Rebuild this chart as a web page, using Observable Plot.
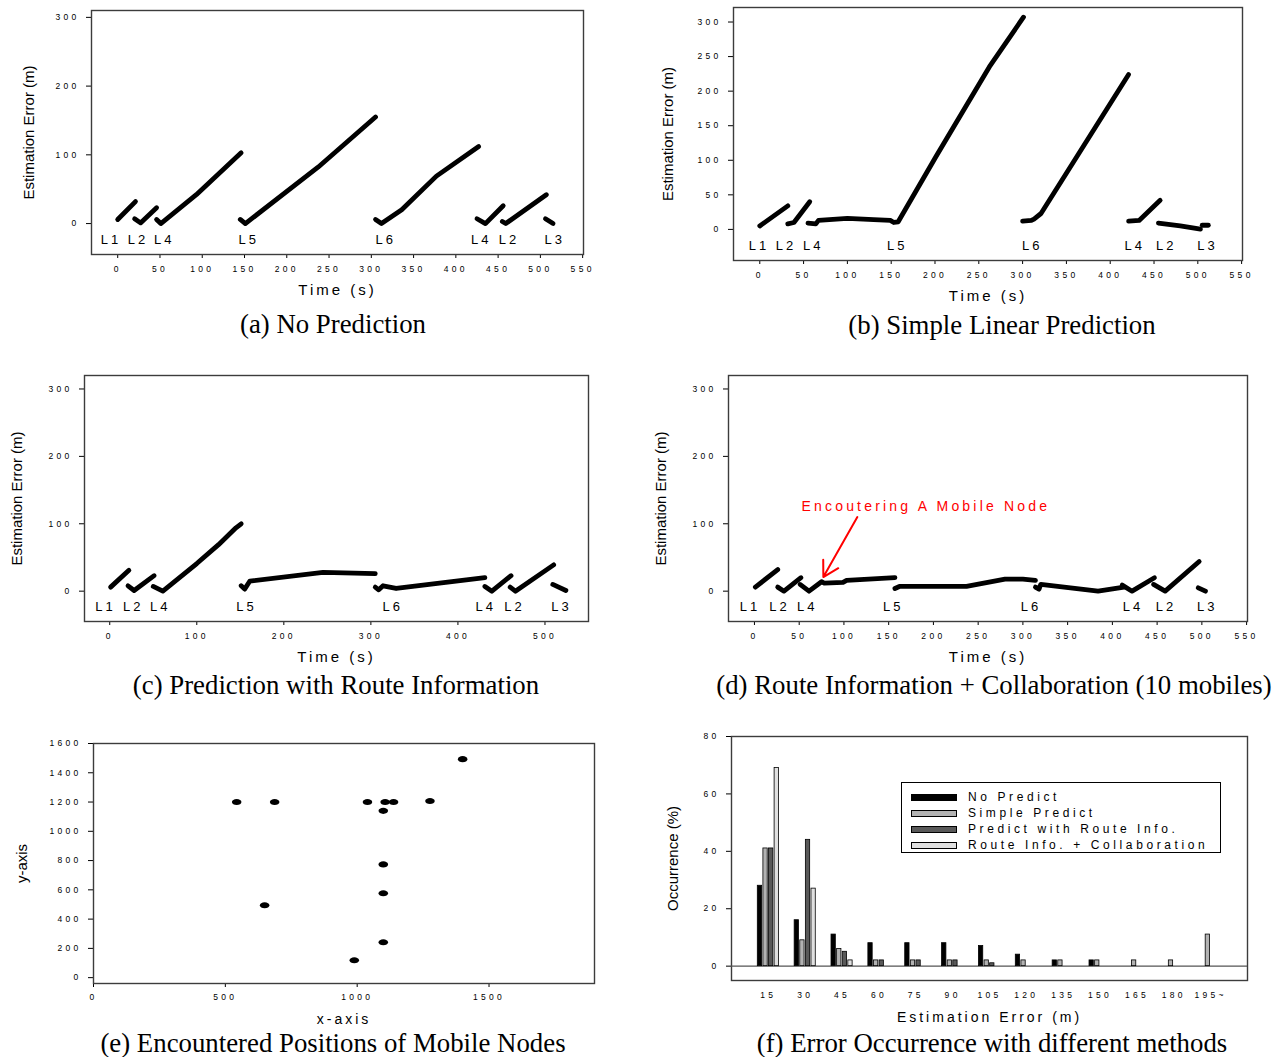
<!DOCTYPE html>
<html>
<head>
<meta charset="utf-8">
<script src="https://cdn.jsdelivr.net/npm/d3@7"></script>
<script src="https://cdn.jsdelivr.net/npm/@observablehq/plot@0.6"></script>
<style>
  html, body { margin: 0; padding: 0; background: #fff; }
  #root { position: relative; width: 1275px; height: 1057px; overflow: hidden; background: #fff; }
  .panel { position: absolute; }
  #root svg { font-family: Arial, "Liberation Sans", Helvetica, sans-serif; overflow: visible; }
  #root g[aria-label="x-axis tick label"], #root g[aria-label="y-axis tick label"] { font-size: 8.5px; letter-spacing: 3.3px; }
  #root g[aria-description="landmark label"] { letter-spacing: 3px; }
  #root g[aria-description="spaced axis title"] { letter-spacing: 3px; }
  #root g[aria-description="annotation"] { letter-spacing: 3.2px; }
  .caption { position: absolute; transform: translate(-50%, -50%); font-family: "Liberation Serif", "Times New Roman", serif; font-size: 26.8px; line-height: 0.85; white-space: nowrap; color: #000; }
  .legend { position: absolute; border: 1.3px solid #000; background: #fff; box-sizing: border-box; font-family: Arial, "Liberation Sans", sans-serif; font-size: 12px; letter-spacing: 3.6px; color: #000; }
  .legend .row { position: absolute; left: 0; height: 16px; display: flex; align-items: center; white-space: nowrap; }
  .legend .sw { width: 46px; height: 7px; border: 1px solid #000; box-sizing: border-box; margin-left: 9px; margin-right: 11px; }
</style>
</head>
<body>
<div id="root"></div>
<script>
// ---------- DATA ----------
// Estimation error traces: [time (s), error (m), segment]
const noPrediction = [
  [0,6,1],[21,32,1],
  [20,7,2],[27,1,2],[46,23,2],
  [46,6,3],[51,0,3],[93,42,3],[146,103,3],
  [145,6,4],[151,0,4],[237,82,4],[305,155,4],
  [305,6,5],[312,0,5],[336,20,5],[377,69,5],[427,112,5],
  [425,7,6],[435,0,6],[456,26,6],
  [455,3,7],[459,0,7],[507,42,7],
  [506,7,8],[515,0,8]
];
const simplePrediction = [
  [0,5,1],[32,34,1],
  [32,8,2],[39,10,2],[57,40,2],
  [55,9,3],[64,8,3],[67,13,3],[100,16,3],[130,14,3],[149,13,3],[153,10,3],[158,11,3],[201,105,3],[262,235,3],[301,307,3],
  [300,12,4],[310,13,4],[313,15,4],[321,23,4],[421,224,4],
  [421,12,5],[433,13,5],[457,42,5],
  [455,9,6],[480,5,6],[503,0.5,6],
  [505,6,7],[512,6,7]
];
const routePrediction = [
  [1,6,1],[22,31,1],
  [21,8,2],[28,1,2],[51,23,2],
  [50,7,3],[61,0,3],[100,41,3],[125,69,3],[145,94,3],[151,100,3],
  [151,8,4],[155,3,4],[161,15,4],[245,28,4],[305,26,4],
  [305,6,5],[309,2,5],[314,8,5],[329,4,5],[431,20,5],
  [431,7,6],[439,0,6],[461,23,6],
  [460,6,7],[466,0,7],[510,39,7],
  [509,10,8],[524,1,8]
];
const routeCollaboration = [
  [1,6,1],[26,32,1],
  [26,6,2],[33,0,2],[52,20,2],
  [51,10,3],[61,0,3],[75,14,3],[78,12,3],[99,13,3],[103,16,3],[157,20,3],
  [157,4,4],[162,7,4],[237,7,4],[280,18,4],[300,18,4],[314,16,4],
  [314,6,5],[318,3,5],[320,10,5],[384,0,5],[413,6,5],
  [411,9,6],[422,0,6],[447,20,6],
  [446,10,7],[459,0,7],[497,44,7],
  [496,5,8],[504,0,8]
];
// Landmark labels: [name, time (s)]
const landmarksA = [["L1",-8],["L2",24],["L4",55],["L5",155],["L6",317],["L4",430],["L2",463],["L3",517]];
const landmarksB = [["L1",-1],["L2",30],["L4",61],["L5",157],["L6",311],["L4",428],["L2",464],["L3",511]];
const landmarksC = [["L1",-5],["L2",27],["L4",58],["L5",157],["L6",325],["L4",432],["L2",465],["L3",519]];
const landmarksD = [["L1",-5],["L2",28],["L4",59],["L5",155],["L6",309],["L4",423],["L2",460],["L3",506]];
// Annotation in (d)
const noteText = [{label: "Encoutering A Mobile Node", t: 52.5, e: 126}];
const noteArrow = [{t1: 115, e1: 110, t2: 77, e2: 21}];

// (e) Encountered positions of mobile nodes
const encounterX = [543, 687, 1039, 1106, 1138, 1276, 1400, 1099, 1099, 1099, 649, 1099, 989];
const encounterY = [1200, 1200, 1200, 1200, 1200, 1207, 1493, 1140, 774, 577, 495, 242, 119];

// (f) Error occurrence
const errorBins = [15, 30, 45, 60, 75, 90, 105, 120, 135, 150, 165, 180, 195];
const binLabels = ["15","30","45","60","75","90","105","120","135","150","165","180","195~"];
const methods = ["No Predict", "Simple Predict", "Predict with Route Info.", "Route Info. + Collaboration"];
const noPredictPct     = [28, 16, 11, 8, 8, 8, 7, 4, 2, 2, 0, 0, 0];
const simplePredictPct = [41,  9,  6, 2, 2, 2, 2, 2, 2, 2, 2, 2, 11];
const routePredictPct  = [41, 44,  5, 2, 2, 2, 1, 0, 0, 0, 0, 0, 0];
const routeCollabPct   = [69, 27,  2, 0, 0, 0, 0, 0, 0, 0, 0, 0, 0];
const methodColors = ["#000000", "#b2b2b2", "#595959", "#e0e0e0"];

// ---------- HELPERS ----------
const root = document.getElementById("root");
function place(node, left, top) {
  const d = document.createElement("div");
  d.className = "panel";
  d.style.left = left + "px"; d.style.top = top + "px";
  d.appendChild(node);
  root.appendChild(d);
}
function caption(text, cx, cy) {
  const d = document.createElement("div");
  d.className = "caption";
  d.style.left = cx + "px"; d.style.top = cy + "px";
  d.textContent = text;
  root.appendChild(d);
}
const frameMark = () => Plot.frame({stroke: "#3c3c3c", strokeWidth: 1.4});
const xTitle = (t, dy, size = 15, spacing = true) =>
  Plot.text([t], {text: d => d, frameAnchor: "bottom", lineAnchor: "middle", textAnchor: "middle", dy, fontSize: size,
    ariaDescription: spacing ? "spaced axis title" : "axis title"});
const yTitle = (t, dx) =>
  Plot.text([t], {text: d => d, frameAnchor: "left", textAnchor: "middle", lineAnchor: "middle", dx, rotate: -90, fontSize: 15,
    ariaDescription: "axis title"});

function errorPanel({data, labels, xDomain, xTicks, yDomain, yTicks, width, height, margins, yDx, extra = []}) {
  return Plot.plot({
    width, height,
    marginLeft: margins[0], marginRight: margins[1], marginTop: margins[2], marginBottom: margins[3],
    x: {domain: xDomain, ticks: xTicks, tickSize: 4, tickPadding: 7, label: null},
    y: {domain: yDomain, ticks: yTicks, tickSize: 5, tickPadding: 7, label: null},
    marks: [
      frameMark(),
      Plot.line(data, {x: d => d[0], y: d => d[1], z: d => d[2], stroke: "#000", strokeWidth: 4.8,
        strokeLinecap: "round", strokeLinejoin: "round"}),
      Plot.text(labels, {x: d => d[1], text: d => d[0], frameAnchor: "bottom", lineAnchor: "middle", dy: -15, fontSize: 13,
        ariaDescription: "landmark label"}),
      xTitle("Time (s)", 36),
      yTitle("Estimation Error (m)", yDx),
      ...extra
    ]
  });
}

// ---------- (a) ----------
place(errorPanel({
  data: noPrediction, labels: landmarksA,
  xDomain: [-31, 551], xTicks: d3.range(0, 551, 50),
  yDomain: [-45, 310], yTicks: [0, 100, 200, 300],
  width: 620, height: 300, margins: [91, 37, 10, 46], yDx: -62
}), 0, 0);
caption("(a) No Prediction", 333, 324);

// ---------- (b) ----------
place(errorPanel({
  data: simplePrediction, labels: landmarksB,
  xDomain: [-30, 551], xTicks: d3.range(0, 551, 50),
  yDomain: [-45, 321], yTicks: d3.range(0, 301, 50),
  width: 635, height: 300, margins: [93, 33, 7, 40], yDx: -65
}), 640, 0);
caption("(b) Simple Linear Prediction", 1002, 325);

// ---------- (c) ----------
place(errorPanel({
  data: routePrediction, labels: landmarksC,
  xDomain: [-29, 550], xTicks: d3.range(0, 501, 100),
  yDomain: [-45, 320], yTicks: [0, 100, 200, 300],
  width: 620, height: 300, margins: [84, 32, 15, 39], yDx: -67
}), 0, 360);
caption("(c) Prediction with Route Information", 336, 685);

// ---------- (d) ----------
place(errorPanel({
  data: routeCollaboration, labels: landmarksD,
  xDomain: [-29, 551], xTicks: d3.range(0, 551, 50),
  yDomain: [-45, 320], yTicks: [0, 100, 200, 300],
  width: 635, height: 300, margins: [88, 28, 15, 39], yDx: -67,
  extra: [
    Plot.arrow(noteArrow, {x1: "t1", y1: "e1", x2: "t2", y2: "e2", stroke: "#ff0000", strokeWidth: 2, headLength: 13, bend: 0}),
    Plot.text(noteText, {x: "t", y: "e", text: "label", textAnchor: "start", fill: "#ff0000", fontSize: 14,
      ariaDescription: "annotation"})
  ]
}), 640, 360);
caption("(d) Route Information + Collaboration (10 mobiles)", 994, 685);

// ---------- (e) ----------
const ellipse = {
  draw(context, size) {
    const r = Math.sqrt(size / Math.PI), rx = r * 1.4, ry = r * 0.9, k = 0.5523;
    context.moveTo(rx, 0);
    context.bezierCurveTo(rx, k * ry, k * rx, ry, 0, ry);
    context.bezierCurveTo(-k * rx, ry, -rx, k * ry, -rx, 0);
    context.bezierCurveTo(-rx, -k * ry, -k * rx, -ry, 0, -ry);
    context.bezierCurveTo(k * rx, -ry, rx, -k * ry, rx, 0);
    context.closePath();
  }
};
const encounters = encounterX.map((x, i) => ({x, y: encounterY[i]}));
place(Plot.plot({
  width: 620, height: 300, marginLeft: 93, marginRight: 26, marginTop: 23, marginBottom: 37,
  x: {domain: [0, 1900], ticks: [0, 500, 1000, 1500], tickFormat: d => String(d), tickSize: 4, tickPadding: 6, label: null},
  y: {domain: [-40, 1600], ticks: d3.range(0, 1601, 200), tickFormat: d => String(d), tickSize: 5, tickPadding: 7, label: null},
  marks: [
    frameMark(),
    Plot.dot(encounters, {x: "x", y: "y", r: 3.4, symbol: ellipse, fill: "#000", stroke: "none"}),
    xTitle("x-axis", 36, 14),
    yTitle("y-axis", -71)
  ]
}), 0, 720);
caption("(e) Encountered Positions of Mobile Nodes", 333, 1043);

// ---------- (f) ----------
const methodSeries = [noPredictPct, simplePredictPct, routePredictPct, routeCollabPct];
const barRows = [];
methodSeries.forEach((vals, i) => vals.forEach((v, j) => {
  if (v > 0) barRows.push({bin: errorBins[j], method: methods[i], index: i, value: v});
}));
const barStep = 2.28, barWidth = 1.75;
place(Plot.plot({
  width: 635, height: 300, marginLeft: 91, marginRight: 28, marginTop: 16, marginBottom: 40,
  x: {domain: [0, 210], ticks: errorBins, tickFormat: d => binLabels[errorBins.indexOf(d)], tickSize: 0, tickPadding: 11, label: null},
  y: {domain: [-5, 80], ticks: [0, 20, 40, 60, 80], tickSize: 5, tickPadding: 7, label: null},
  color: {domain: methods, range: methodColors},
  marks: [
    frameMark(),
    Plot.ruleY([0], {stroke: "#555", strokeWidth: 1.2}),
    Plot.rect(barRows, {
      x1: d => d.bin + (d.index - 1.5) * barStep - barWidth / 2,
      x2: d => d.bin + (d.index - 1.5) * barStep + barWidth / 2,
      y1: 0, y2: "value", fill: "method", stroke: "#000", strokeWidth: 0.8
    }),
    xTitle("Estimation Error (m)", 37, 14),
    yTitle("Occurrence (%)", -58)
  ]
}), 640, 720);
caption("(f) Error Occurrence with different methods", 992, 1043);

// legend for (f)
const legend = document.createElement("div");
legend.className = "legend";
Object.assign(legend.style, {left: "901px", top: "782px", width: "320px", height: "71px"});
methods.forEach((m, i) => {
  const row = document.createElement("div");
  row.className = "row";
  row.style.top = (6 + i * 16) + "px";
  const sw = document.createElement("div");
  sw.className = "sw";
  sw.style.background = methodColors[i];
  const tx = document.createElement("span");
  tx.textContent = m;
  row.appendChild(sw); row.appendChild(tx);
  legend.appendChild(row);
});
root.appendChild(legend);
</script>
</body>
</html>
